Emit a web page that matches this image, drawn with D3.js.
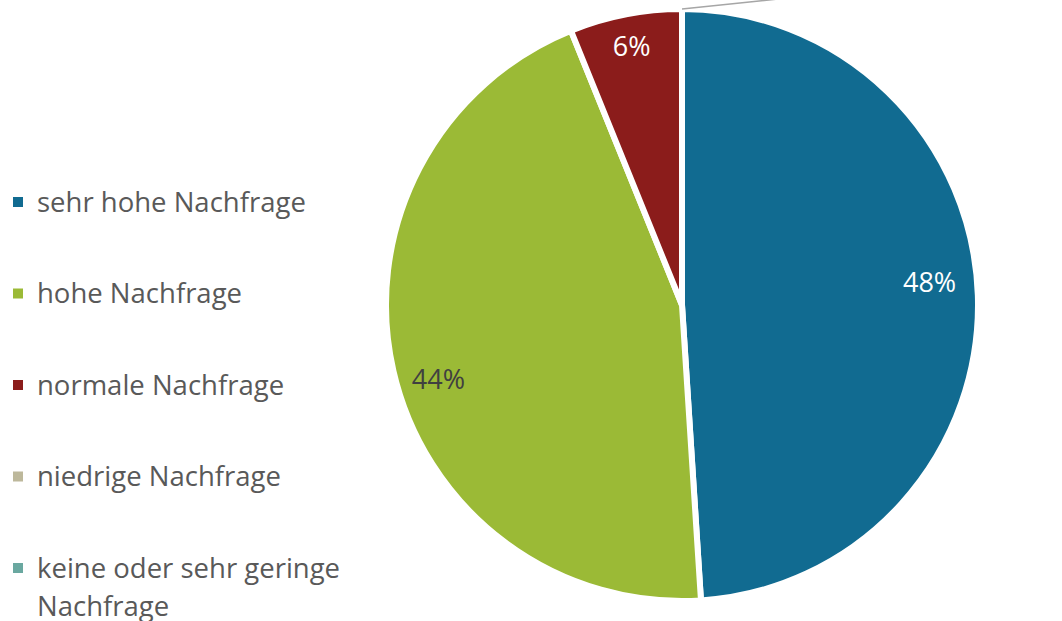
<!DOCTYPE html>
<html>
<head>
<meta charset="utf-8">
<script src="https://cdn.jsdelivr.net/npm/d3@7"></script>
<style>
  body { margin: 0; background: #fff; }
  text { font-family: "Open Sans", Lato, sans-serif; }
</style>
</head>
<body>
<div id="chart"></div>
<script>
const categories = [
  "sehr hohe Nachfrage",
  "hohe Nachfrage",
  "normale Nachfrage",
  "niedrige Nachfrage",
  "keine oder sehr geringe Nachfrage",
];
const values = [48, 44, 6, 0, 0];
const labels = ["48%", "44%", "6%", "0%", "0%"];
const colors = ["#116b91", "#9bba36", "#8b1c1b", "#bdb89b", "#6aa8a0"];

const width = 1062;
const height = 621;
const cx = 682;
const cy = 305;
const radius = 296;

const svg = d3
  .select("#chart")
  .append("svg")
  .attr("width", width)
  .attr("height", height);

const pie = d3.pie().sort(null).value((d) => d)(values);
const arc = d3.arc().innerRadius(0).outerRadius(radius);

const g = svg.append("g").attr("transform", `translate(${cx}, ${cy})`);

g.selectAll("path")
  .data(pie)
  .enter()
  .append("path")
  .attr("d", arc)
  .attr("fill", (d, i) => colors[i])
  .attr("stroke", "#fff")
  .attr("stroke-width", 6)
  .attr("stroke-linejoin", "miter");

// label placement: radius fraction and angle nudge (deg)
const labelR = [0.84, 0.86, 0.89];
const labelNudge = [-3.5, -4, 0];
const labelFill = ["#fff", "#404040", "#fff"];

g.selectAll("text.lbl")
  .data(pie.filter((d) => d.value > 0))
  .enter()
  .append("text")
  .attr("class", "lbl")
  .attr("transform", (d) => {
    const a = (d.startAngle + d.endAngle) / 2 + (labelNudge[d.index] * Math.PI) / 180;
    const r = radius * labelR[d.index];
    return `translate(${r * Math.sin(a)}, ${-r * Math.cos(a)})`;
  })
  .attr("text-anchor", "middle")
  .attr("dy", "0.36em")
  .attr("font-size", 27)
  .attr("fill", (d) => labelFill[d.index])
  .text((d) => labels[d.index]);

// leader line for the zero slices at the top (their labels lie outside the frame)
const a0 = pie[3].startAngle;
const p0 = [radius * Math.sin(a0), -radius * Math.cos(a0)];
g.append("line")
  .attr("x1", p0[0])
  .attr("y1", p0[1])
  .attr("x2", p0[0] + 130)
  .attr("y2", p0[1] - 13.5)
  .attr("stroke", "#a6a6a6")
  .attr("stroke-width", 1.5);

// legend
const legend = svg.append("g").attr("transform", "translate(13, 202)");
const rowGap = 91.5;

const item = legend
  .selectAll("g")
  .data(categories)
  .enter()
  .append("g")
  .attr("transform", (d, i) => `translate(0, ${i * rowGap})`);

item
  .append("rect")
  .attr("x", 0)
  .attr("y", -5)
  .attr("width", 10)
  .attr("height", 10)
  .attr("fill", (d, i) => colors[i]);

item
  .append("text")
  .attr("x", 24)
  .attr("y", 9.5)
  .attr("font-size", 27.5)
  .attr("fill", "#595959")
  .each(function (d) {
    const t = d3.select(this);
    const lines = d.length > 25 ? ["keine oder sehr geringe", "Nachfrage"] : [d];
    lines.forEach((ln, k) => {
      t.append("tspan").attr("x", 24).attr("dy", k === 0 ? 0 : 38).text(ln);
    });
  });
</script>
</body>
</html>
